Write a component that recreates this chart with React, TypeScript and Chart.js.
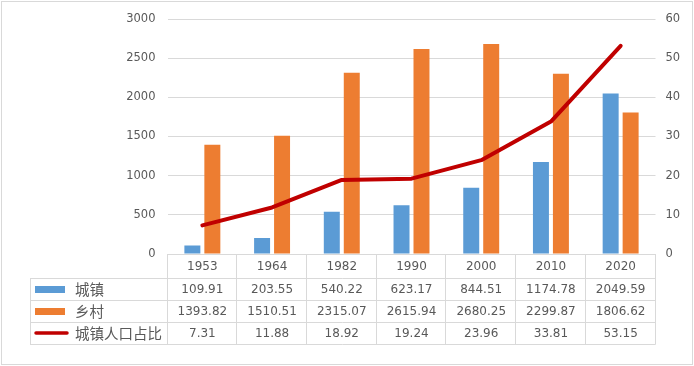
import React, { useEffect, useRef } from "react";
import { Chart, registerables } from "chart.js";

Chart.register(...registerables);

const categories = ["1953", "1964", "1982", "1990", "2000", "2010", "2020"];
const urban = [109.91, 203.55, 540.22, 623.17, 844.51, 1174.78, 2049.59];
const rural = [1393.82, 1510.51, 2315.07, 2615.94, 2680.25, 2299.87, 1806.62];
const urbanRatio = [7.31, 11.88, 18.92, 19.24, 23.96, 33.81, 53.15];
const seriesNames = ["城镇", "乡村", "城镇人口占比"];
const leftTicks = { min: 0, max: 3000, step: 500 };
const rightTicks = { min: 0, max: 60, step: 10 };

const BLUE = "#5b9bd5";
const ORANGE = "#ed7d31";
const RED = "#c00000";
const GRID = "#d9d9d9";
const TEXT = "#595959";
const NUM_FONT = '"DejaVu Sans", "Noto Sans CJK SC", sans-serif';
const CJK_FONT = '"Noto Sans CJK SC", "Noto Sans", sans-serif';

const tablePlugin = {
  id: "dataTable",
  afterDraw(chart: any) {
    const ctx = chart.ctx as CanvasRenderingContext2D;
    const area = chart.chartArea;
    const xs = chart.scales.x;
    const n = categories.length;
    const left = area.left;
    const right = area.right;
    const colW = (right - left) / n;
    const top = area.bottom;
    const headH = 24;
    const rowH = 22;
    const legendLeft = 30;
    const rowsTop = top + headH;
    const bottom = rowsTop + rowH * 3;

    ctx.save();
    ctx.strokeStyle = GRID;
    ctx.lineWidth = 1;
    ctx.beginPath();
    ctx.moveTo(left, Math.round(top) + 0.5);
    ctx.lineTo(right, Math.round(top) + 0.5);
    for (let r = 0; r <= 3; r++) {
      const y = Math.round(rowsTop + r * rowH) + 0.5;
      ctx.moveTo(legendLeft, y);
      ctx.lineTo(right, y);
    }
    for (let c = 0; c <= n; c++) {
      const x = Math.round(left + c * colW) - 0.5;
      ctx.moveTo(x, top);
      ctx.lineTo(x, bottom + 0.5);
    }
    ctx.moveTo(legendLeft + 0.5, rowsTop);
    ctx.lineTo(legendLeft + 0.5, bottom + 0.5);
    ctx.stroke();

    ctx.strokeRect(1.5, 1.5, chart.width - 3, chart.height - 3);

    ctx.fillStyle = TEXT;
    ctx.font = `12px ${NUM_FONT}`;
    ctx.textAlign = "center";
    ctx.textBaseline = "middle";
    categories.forEach((c, i) => {
      const x = xs.getPixelForValue(i);
      ctx.fillText(c, x, top + headH / 2 + 0.5);
    });
    const rows = [urban, rural, urbanRatio];
    rows.forEach((vals, r) => {
      const y = rowsTop + r * rowH + rowH / 2 + 0.5;
      vals.forEach((v, i) => {
        const x = xs.getPixelForValue(i);
        ctx.fillText(v.toFixed(2), x, y);
      });
    });

    ctx.textAlign = "left";
    ctx.font = `14.5px ${CJK_FONT}`;
    seriesNames.forEach((name, r) => {
      const y = rowsTop + r * rowH + rowH / 2;
      if (r < 2) {
        ctx.fillStyle = r === 0 ? BLUE : ORANGE;
        ctx.fillRect(35, Math.round(y) - 3, 30, 7);
      } else {
        ctx.strokeStyle = RED;
        ctx.lineWidth = 3.5;
        ctx.lineCap = "round";
        ctx.beginPath();
        ctx.moveTo(36, y);
        ctx.lineTo(67, y);
        ctx.stroke();
      }
      ctx.fillStyle = TEXT;
      ctx.fillText(name, 75, y + 0.5);
    });
    ctx.restore();
  },
};

export default function App() {
  const ref = useRef<HTMLCanvasElement | null>(null);
  useEffect(() => {
    if (!ref.current) return;
    const chart = new Chart(ref.current, {
      type: "bar",
      data: {
        labels: categories,
        datasets: [
          {
            type: "line",
            label: seriesNames[2],
            data: urbanRatio,
            borderColor: RED,
            backgroundColor: RED,
            borderWidth: 4,
            borderCapStyle: "round",
            borderJoinStyle: "round",
            pointRadius: 0,
            tension: 0,
            yAxisID: "y1",
            order: 0,
          } as any,
          {
            label: seriesNames[0],
            data: urban,
            backgroundColor: BLUE,
            barPercentage: 0.8,
            categoryPercentage: 0.573,
            yAxisID: "y",
            order: 1,
          },
          {
            label: seriesNames[1],
            data: rural,
            backgroundColor: ORANGE,
            barPercentage: 0.8,
            categoryPercentage: 0.573,
            yAxisID: "y",
            order: 1,
          },
        ],
      },
      options: {
        animation: false,
        responsive: false,
        devicePixelRatio: 1,
        layout: { padding: { top: 19, bottom: 112, left: 0, right: 0 } },
        plugins: { legend: { display: false }, tooltip: { enabled: false } },
        scales: {
          x: { display: false, offset: true },
          y: {
            position: "left",
            min: leftTicks.min,
            max: leftTicks.max,
            ticks: {
              stepSize: leftTicks.step,
              color: TEXT,
              font: { size: 11.5, family: NUM_FONT },
              padding: 12,
              callback: (v: any) => String(v),
            },
            grid: { color: GRID, drawTicks: false },
            border: { display: false },
            afterFit: (s: any) => {
              s.width = 167.5;
            },
          },
          y1: {
            position: "right",
            min: rightTicks.min,
            max: rightTicks.max,
            ticks: {
              stepSize: rightTicks.step,
              color: TEXT,
              font: { size: 11.5, family: NUM_FONT },
              padding: 10,
              callback: (v: any) => String(v),
            },
            grid: { display: false, drawTicks: false },
            border: { display: false },
            afterFit: (s: any) => {
              s.width = 38.5;
            },
          },
        },
      },
      plugins: [tablePlugin],
    });
    return () => chart.destroy();
  }, []);
  return (
    <div style={{ position: "absolute", left: 0, top: 0, width: 694, height: 366, background: "#fff" }}>
      <canvas ref={ref} width={694} height={366} style={{ width: 694, height: 366, display: "block" }} />
    </div>
  );
}
